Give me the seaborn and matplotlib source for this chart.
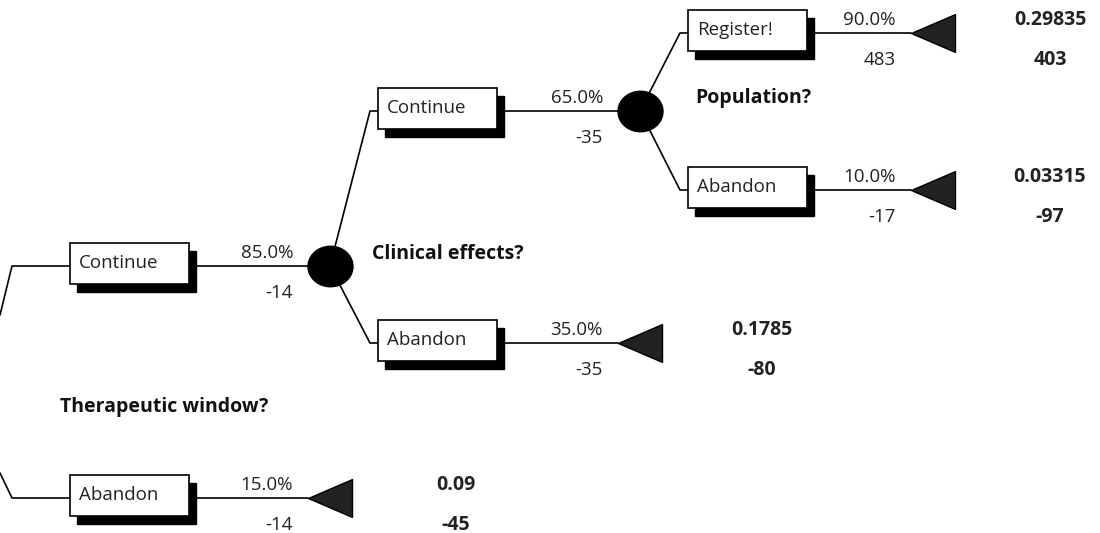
import numpy as np
import pandas as pd
import matplotlib
matplotlib.use("Agg")
import matplotlib.pyplot as plt
from matplotlib.patches import Rectangle
from matplotlib.path import Path
import seaborn as sns

# ---------------- data ----------------
branch_labels = ["Continue", "Abandon", "Continue", "Abandon", "Register!", "Abandon"]
branch_probs = [85.0, 15.0, 65.0, 35.0, 90.0, 10.0]
branch_costs = [-14, -14, -35, -35, 483, -17]
branch_parent = [0, 0, 1, 1, 2, 2]          # index of the chance node the branch leaves
branch_child = [1, None, 2, None, None, None]  # chance node reached (None -> terminal)
chance_labels = ["Therapeutic window?", "Clinical effects?", "Population?"]
terminal_branch = [1, 3, 4, 5]
terminal_probs = [0.09, 0.1785, 0.29835, 0.03315]
terminal_values = [-45, -80, 403, -97]

# ---------------- layout ----------------
W, H = 1100, 533
level_elbow_x = [12, 370, 680]
level_box_x = [70, 378, 688]
level_node_x = [308, 618, 911]
terminal_text_x = [456, 762, 1050]
branch_line_y = [266, 498, 111, 343, 33, 190]
root_anchor = [(0, 315), (0, 473)]
chance_label_pos = [(60, 407), (372, 254), (695, 98)]
box_w, box_h, box_top_off = 119, 41, 23
shadow_dx, shadow_dy = 7, 8
node_w = 44
fs_reg, fs_bold = 13.5, 14

sns.set_theme(style="white")
plt.rcParams["font.family"] = ["Open Sans", "DejaVu Sans"]

fig = plt.figure(figsize=(W / 100, H / 100), dpi=100)
ax = fig.add_axes([0, 0, 1, 1])
ax.set_xlim(0, W)
ax.set_ylim(H, 0)
ax.axis("off")

# chance node centres
chance_center = {}
for b, child in enumerate(branch_child):
    if child is not None:
        lvl = branch_parent[b]
        chance_center[child] = (level_node_x[lvl] + node_w / 2, branch_line_y[b])

# ---------------- edges ----------------
rows = []
root_i = 0
for b in range(len(branch_labels)):
    lvl = branch_parent[b]
    y = branch_line_y[b]
    if lvl == 0:
        px, py = root_anchor[root_i]
        root_i += 1
    else:
        px, py = chance_center[lvl]
    end_x = level_node_x[lvl] + (node_w / 2 if branch_child[b] is not None else 0)
    for k, (xx, yy) in enumerate([(px, py), (level_elbow_x[lvl], y), (end_x, y)]):
        rows.append({"edge": b, "order": k, "x": xx, "y": yy})
edges = pd.DataFrame(rows)
sns.lineplot(data=edges, x="x", y="y", units="edge", estimator=None, sort=False,
             color="black", linewidth=1.2, ax=ax, legend=False, zorder=1)

# ---------------- boxes ----------------
for b, lab in enumerate(branch_labels):
    lvl = branch_parent[b]
    y = branch_line_y[b]
    bx = level_box_x[lvl]
    top = y - box_top_off
    ax.add_patch(Rectangle((bx + shadow_dx, top + shadow_dy), box_w, box_h,
                           facecolor="black", edgecolor="black", zorder=2))
    ax.add_patch(Rectangle((bx, top), box_w, box_h, facecolor="white",
                           edgecolor="black", linewidth=1.2, zorder=3))
    ax.text(bx + 9, y - 3, lab, ha="left", va="center", fontsize=fs_reg,
            color="#222222", zorder=4)
    tx = level_node_x[lvl] - 15
    ax.text(tx, y - 13, f"{branch_probs[b]:.1f}%", ha="right", va="center",
            fontsize=fs_reg, color="#222222", zorder=4)
    ax.text(tx, y + 27, f"{branch_costs[b]}", ha="right", va="center",
            fontsize=fs_reg, color="#222222", zorder=4)

# ---------------- chance nodes ----------------
t = np.linspace(0, 2 * np.pi, 60)
ellipse_marker = Path(np.column_stack([np.cos(t), 0.9 * np.sin(t)]), closed=True)
cn = pd.DataFrame([{"x": c[0], "y": c[1]} for c in chance_center.values()])
sns.scatterplot(data=cn, x="x", y="y", marker=ellipse_marker, s=(45 * 0.72) ** 2,
                color="black", edgecolor="black", linewidth=1, ax=ax, zorder=5,
                legend=False)
for i, lab in enumerate(chance_labels):
    lx, ly = chance_label_pos[i]
    ax.text(lx, ly, lab, ha="left", va="center", fontsize=fs_bold,
            fontweight="bold", color="#111111", zorder=4)

# ---------------- terminal nodes ----------------
tri_marker = Path([(-1, 0), (1, 0.86), (1, -0.86), (-1, 0)], closed=True)
tn = pd.DataFrame([{"x": level_node_x[branch_parent[b]] + node_w / 2,
                    "y": branch_line_y[b]} for b in terminal_branch])
sns.scatterplot(data=tn, x="x", y="y", marker=tri_marker, s=(node_w * 0.72) ** 2,
                color="#222222", edgecolor="black", linewidth=1, ax=ax, zorder=5,
                legend=False)
for i, b in enumerate(terminal_branch):
    lvl = branch_parent[b]
    y = branch_line_y[b]
    x = terminal_text_x[lvl]
    ax.text(x, y - 13, f"{terminal_probs[i]:g}", ha="center", va="center",
            fontsize=fs_bold, fontweight="bold", color="#222222", zorder=4)
    ax.text(x, y + 27, f"{terminal_values[i]}", ha="center", va="center",
            fontsize=fs_bold, fontweight="bold", color="#222222", zorder=4)

ax.set_xlim(0, W)
ax.set_ylim(H, 0)
ax.axis("off")
fig.savefig("out.png", dpi=100)
